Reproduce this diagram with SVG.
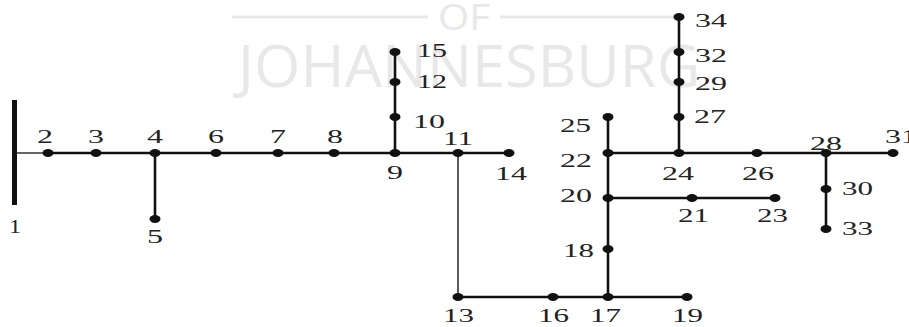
<svg xmlns="http://www.w3.org/2000/svg" width="909" height="327" viewBox="0 0 909 327">
<style>
.wm{font-family:"Open Sans","Liberation Sans",sans-serif;font-weight:400;fill:#e8e8e8}
.lbl{font-family:"Liberation Serif",serif;font-size:19px;fill:#222}
.ln{stroke:#111;stroke-width:2.6;fill:none}
.thin{stroke:#333;stroke-width:1.6;fill:none}
.dot{fill:#111}
</style>
<rect width="909" height="327" fill="#fff"/>
<g id="watermark">
<line x1="232" y1="17" x2="428" y2="17" stroke="#e8e8e8" stroke-width="3"/>
<line x1="500" y1="17" x2="676" y2="17" stroke="#e8e8e8" stroke-width="3"/>
<text class="wm" x="438" y="30" font-size="36" textLength="52" lengthAdjust="spacingAndGlyphs">OF</text>
<text class="wm" x="238" y="87" font-size="58" textLength="462" lengthAdjust="spacingAndGlyphs">JOHANNESBURG</text>
</g>
<g id="connectors">
<line class="thin" x1="14" y1="153" x2="48" y2="153"/>
<line class="ln" x1="48" y1="153" x2="458" y2="153"/>
<line class="ln" x1="458" y1="153" x2="509" y2="153"/>
<line class="ln" x1="155" y1="153" x2="155" y2="219"/>
<line class="ln" x1="395" y1="153" x2="395" y2="52"/>
<line class="thin" x1="458" y1="153" x2="458" y2="297"/>
<line class="ln" x1="458" y1="297" x2="687" y2="297"/>
<line class="ln" x1="608" y1="297" x2="608" y2="117" stroke-width="3"/>
<line class="ln" x1="608" y1="198" x2="775" y2="198"/>
<line class="ln" x1="608" y1="153" x2="893" y2="153"/>
<line class="ln" x1="679" y1="153" x2="679" y2="17"/>
<line class="ln" x1="826" y1="153" x2="826" y2="229"/>
</g>
<g id="bus1"><rect x="12" y="100" width="5" height="105" fill="#111"/><text class="lbl" x="9" y="233" textLength="12" lengthAdjust="spacingAndGlyphs">1</text></g>
<g id="bus2"><ellipse class="dot" cx="48" cy="153" rx="5.5" ry="4"/><text class="lbl" x="37" y="143" textLength="16" lengthAdjust="spacingAndGlyphs">2</text></g>
<g id="bus3"><ellipse class="dot" cx="96" cy="153" rx="5.5" ry="4"/><text class="lbl" x="88" y="143" textLength="16" lengthAdjust="spacingAndGlyphs">3</text></g>
<g id="bus4"><ellipse class="dot" cx="155" cy="153" rx="5.5" ry="4"/><text class="lbl" x="147" y="143" textLength="16" lengthAdjust="spacingAndGlyphs">4</text></g>
<g id="bus5"><ellipse class="dot" cx="155" cy="219" rx="5.5" ry="4"/><text class="lbl" x="147" y="243" textLength="16" lengthAdjust="spacingAndGlyphs">5</text></g>
<g id="bus6"><ellipse class="dot" cx="216" cy="153" rx="5.5" ry="4"/><text class="lbl" x="208" y="143" textLength="16" lengthAdjust="spacingAndGlyphs">6</text></g>
<g id="bus7"><ellipse class="dot" cx="278" cy="153" rx="5.5" ry="4"/><text class="lbl" x="270" y="143" textLength="16" lengthAdjust="spacingAndGlyphs">7</text></g>
<g id="bus8"><ellipse class="dot" cx="334" cy="153" rx="5.5" ry="4"/><text class="lbl" x="327" y="143" textLength="16" lengthAdjust="spacingAndGlyphs">8</text></g>
<g id="bus9"><ellipse class="dot" cx="395" cy="153" rx="5.5" ry="4"/><text class="lbl" x="387" y="179" textLength="16" lengthAdjust="spacingAndGlyphs">9</text></g>
<g id="bus10"><ellipse class="dot" cx="395" cy="117" rx="5.5" ry="4"/><text class="lbl" x="413" y="128" textLength="32" lengthAdjust="spacingAndGlyphs">10</text></g>
<g id="bus11"><ellipse class="dot" cx="458" cy="153" rx="5.5" ry="4"/><text class="lbl" x="443" y="145" textLength="30" lengthAdjust="spacingAndGlyphs">11</text></g>
<g id="bus12"><ellipse class="dot" cx="395" cy="82" rx="5.5" ry="4"/><text class="lbl" x="417" y="88" textLength="30" lengthAdjust="spacingAndGlyphs">12</text></g>
<g id="bus13"><ellipse class="dot" cx="458" cy="297" rx="5.5" ry="4"/><text class="lbl" x="443" y="322" textLength="31" lengthAdjust="spacingAndGlyphs">13</text></g>
<g id="bus14"><ellipse class="dot" cx="509" cy="153" rx="5.5" ry="4"/><text class="lbl" x="495" y="180" textLength="32" lengthAdjust="spacingAndGlyphs">14</text></g>
<g id="bus15"><ellipse class="dot" cx="395" cy="52" rx="5.5" ry="4"/><text class="lbl" x="417" y="57" textLength="30" lengthAdjust="spacingAndGlyphs">15</text></g>
<g id="bus16"><ellipse class="dot" cx="553" cy="297" rx="5.5" ry="4"/><text class="lbl" x="538" y="322" textLength="31" lengthAdjust="spacingAndGlyphs">16</text></g>
<g id="bus17"><ellipse class="dot" cx="608" cy="297" rx="5.5" ry="4"/><text class="lbl" x="590" y="322" textLength="31" lengthAdjust="spacingAndGlyphs">17</text></g>
<g id="bus18"><ellipse class="dot" cx="608" cy="249" rx="5.5" ry="4"/><text class="lbl" x="563" y="257" textLength="31" lengthAdjust="spacingAndGlyphs">18</text></g>
<g id="bus19"><ellipse class="dot" cx="687" cy="297" rx="5.5" ry="4"/><text class="lbl" x="672" y="322" textLength="31" lengthAdjust="spacingAndGlyphs">19</text></g>
<g id="bus20"><ellipse class="dot" cx="608" cy="198" rx="5.5" ry="4"/><text class="lbl" x="560" y="202" textLength="32" lengthAdjust="spacingAndGlyphs">20</text></g>
<g id="bus21"><ellipse class="dot" cx="692" cy="198" rx="5.5" ry="4"/><text class="lbl" x="678" y="222" textLength="31" lengthAdjust="spacingAndGlyphs">21</text></g>
<g id="bus22"><ellipse class="dot" cx="608" cy="153" rx="5.5" ry="4"/><text class="lbl" x="560" y="167" textLength="32" lengthAdjust="spacingAndGlyphs">22</text></g>
<g id="bus23"><ellipse class="dot" cx="775" cy="198" rx="5.5" ry="4"/><text class="lbl" x="757" y="222" textLength="31" lengthAdjust="spacingAndGlyphs">23</text></g>
<g id="bus24"><ellipse class="dot" cx="679" cy="153" rx="5.5" ry="4"/><text class="lbl" x="662" y="180" textLength="32" lengthAdjust="spacingAndGlyphs">24</text></g>
<g id="bus25"><ellipse class="dot" cx="608" cy="117" rx="5.5" ry="4"/><text class="lbl" x="560" y="132" textLength="31" lengthAdjust="spacingAndGlyphs">25</text></g>
<g id="bus26"><ellipse class="dot" cx="757" cy="153" rx="5.5" ry="4"/><text class="lbl" x="742" y="180" textLength="32" lengthAdjust="spacingAndGlyphs">26</text></g>
<g id="bus27"><ellipse class="dot" cx="679" cy="117" rx="5.5" ry="4"/><text class="lbl" x="694" y="123" textLength="32" lengthAdjust="spacingAndGlyphs">27</text></g>
<g id="bus28"><ellipse class="dot" cx="826" cy="153" rx="5.5" ry="4"/><text class="lbl" x="810" y="150" textLength="32" lengthAdjust="spacingAndGlyphs">28</text></g>
<g id="bus29"><ellipse class="dot" cx="679" cy="82" rx="5.5" ry="4"/><text class="lbl" x="695" y="90" textLength="32" lengthAdjust="spacingAndGlyphs">29</text></g>
<g id="bus30"><ellipse class="dot" cx="826" cy="189" rx="5.5" ry="4"/><text class="lbl" x="842" y="195" textLength="31" lengthAdjust="spacingAndGlyphs">30</text></g>
<g id="bus31"><ellipse class="dot" cx="893" cy="153" rx="5.5" ry="4"/><text class="lbl" x="885" y="143" textLength="32" lengthAdjust="spacingAndGlyphs">31</text></g>
<g id="bus32"><ellipse class="dot" cx="679" cy="52" rx="5.5" ry="4"/><text class="lbl" x="695" y="62" textLength="32" lengthAdjust="spacingAndGlyphs">32</text></g>
<g id="bus33"><ellipse class="dot" cx="826" cy="229" rx="5.5" ry="4"/><text class="lbl" x="842" y="235" textLength="31" lengthAdjust="spacingAndGlyphs">33</text></g>
<g id="bus34"><ellipse class="dot" cx="679" cy="17" rx="5.5" ry="4"/><text class="lbl" x="695" y="27" textLength="32" lengthAdjust="spacingAndGlyphs">34</text></g>
</svg>
